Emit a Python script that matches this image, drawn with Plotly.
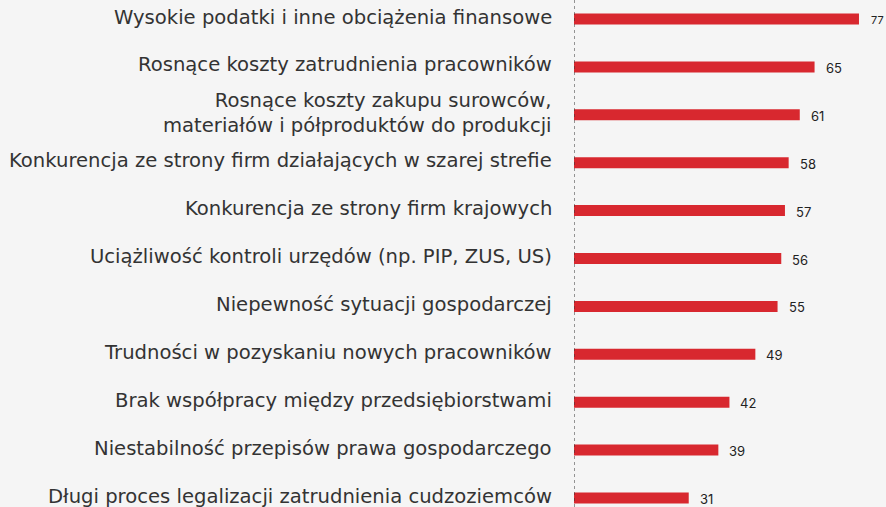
import plotly.graph_objects as go

categories = [
    "Wysokie podatki i inne obciążenia finansowe",
    "Rosnące koszty zatrudnienia pracowników",
    "Rosnące koszty zakupu surowców,<br>materiałów i półproduktów do produkcji",
    "Konkurencja ze strony firm działających w szarej strefie",
    "Konkurencja ze strony firm krajowych",
    "Uciążliwość kontroli urzędów (np. PIP, ZUS, US)",
    "Niepewność sytuacji gospodarczej",
    "Trudności w pozyskaniu nowych pracowników",
    "Brak współpracy między przedsiębiorstwami",
    "Niestabilność przepisów prawa gospodarczego",
    "Długi proces legalizacji zatrudnienia cudzoziemców",
]
values = [77, 65, 61, 58, 57, 56, 55, 49, 42, 39, 31]

BAR = "#d8282f"
BG = "#f5f5f5"

fig = go.Figure()
fig.add_trace(go.Bar(
    x=values, y=categories, orientation="h",
    marker=dict(color=BAR, line=dict(width=0)),
    width=0.23, hoverinfo="skip",
))

for i, (c, v) in enumerate(zip(categories, values)):
    fig.add_annotation(
        x=v, y=c, text=str(v), showarrow=False,
        xanchor="left", yanchor="middle", xshift=9 if i else 10, yshift=-1,
        font=dict(family="Inter, Roboto, sans-serif", size=11 if i == 0 else 13, color="#222222"),
    )
    fig.add_annotation(
        x=0, xref="paper", y=c, text=c, showarrow=False,
        xanchor="right", yanchor="middle", align="right", xshift=-20, yshift=2,
        font=dict(family="DejaVu Sans, sans-serif", size=19.6, color="#333333"),
    )

fig.add_shape(type="line", xref="x", yref="paper", x0=0, x1=0, y0=0, y1=1,
              line=dict(color="#333333", width=1, dash="dot"))

fig.update_layout(
    width=886, height=507,
    margin=dict(l=574, r=0, t=0, b=0),
    paper_bgcolor=BG, plot_bgcolor=BG,
    showlegend=False,
    xaxis=dict(range=[0, 84.3], visible=False, fixedrange=True),
    yaxis=dict(
        range=[10.188, -0.397], type="category",
        showgrid=False, zeroline=False, showline=False, ticks="",
        showticklabels=False, automargin=False,
    ),
)

fig.write_html(
    "out.html",
    config={"displayModeBar": False},
    post_script="document.body.style.margin='0';document.body.style.background='#f5f5f5';",
)
